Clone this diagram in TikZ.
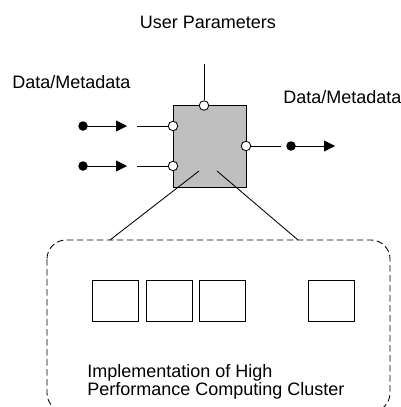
\documentclass[tikz,border=0pt]{standalone}
\usepackage{fontspec}
\setmainfont{Liberation Sans}
\usetikzlibrary{arrows.meta}
\begin{document}
\begin{tikzpicture}[x=1pt,y=-1pt,line width=0.85pt,
  lbl/.style={inner sep=0pt,font=\fontsize{18}{20}\selectfont},
  procbox/.style={draw,fill=black!25,minimum width=73pt,minimum height=82pt,inner sep=0pt},
  port/.style={circle,draw,fill=white,minimum size=9.5pt,inner sep=0pt},
  blob/.style={circle,fill=black,minimum size=9.5pt,inner sep=0pt},
  flow/.style={-{Triangle[length=11pt,width=11pt]}},
  unit/.style={draw,minimum width=46pt,minimum height=41pt,inner sep=0pt},
  cluster/.style={draw,dash pattern=on 6.5pt off 3.5pt,rounded corners=19pt}]
\useasboundingbox (0,0) rectangle (401,407);
\clip (0,0) rectangle (401,407);

% labels
\node[lbl] (userpar) at (208,22) {User Parameters};
\node[lbl,anchor=west] (inlbl) at (12,82) {Data/Metadata};
\node[lbl,anchor=west] (outlbl) at (283,97) {Data/Metadata};

% processing block with its ports
\node[procbox] (proc) at (209.5,146) {};
\node[port] (ptop) at (204,105.5) {};
\node[port] (pin1) at (173,126) {};
\node[port] (pin2) at (173,166) {};
\node[port] (pout) at (246,146) {};

% user parameter input
\coordinate (uptop) at (204,64);
\draw (uptop) -- (ptop);

% data inputs
\coordinate (w1) at (137,126);
\coordinate (w2) at (137,166);
\draw (w1) -- (pin1);
\draw (w2) -- (pin2);
\node[blob] (d1) at (83,126) {};
\node[blob] (d2) at (83,166) {};
\coordinate (t1) at (127,126);
\coordinate (t2) at (127,166);
\draw[flow] (d1.center) -- (t1);
\draw[flow] (d2.center) -- (t2);

% data output
\coordinate (w3) at (281,146);
\draw (pout) -- (w3);
\node[blob] (d3) at (291,146) {};
\coordinate (t3) at (335,146);
\draw[flow] (d3.center) -- (t3);

% cluster outline and the zoom lines to it
\draw[cluster] (47,240) rectangle (390,412);
\coordinate (s1) at (199,171);
\coordinate (s2) at (217,171);
\coordinate (c1) at (110,240);
\coordinate (c2) at (298,240);
\draw (s1) -- (c1);
\draw (s2) -- (c2);

% compute nodes
\node[unit] (n1) at (115,300.5) {};
\node[unit] (n2) at (169,300.5) {};
\node[unit] (n3) at (222,300.5) {};
\node[unit] (n4) at (331,300.5) {};

\node[lbl,anchor=north west,align=left,font=\fontsize{18}{18.5}\selectfont] (clabel) at (87,364)
  {Implementation of High\\Performance Computing Cluster};
\end{tikzpicture}
\end{document}
